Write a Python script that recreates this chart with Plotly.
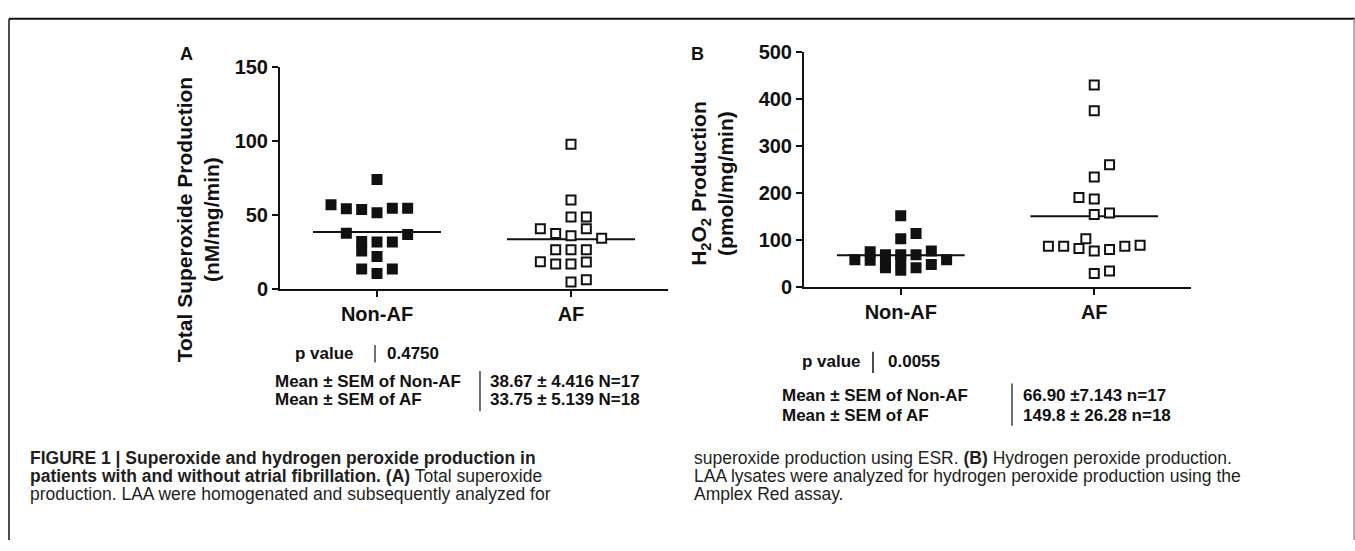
import plotly.graph_objects as go

W, H = 1355, 551

# ---------------- data ----------------
groups = ["Non-AF", "AF"]

# Panel A: total superoxide production (nM/mg/min)
a_nonaf_vals = [74, 57.1, 54.3, 53.9, 51.7, 54.7, 54.7, 37.9, 37.0, 32.3, 25.9, 31.9, 31.9, 22.2, 13.8, 10.8, 13.8]
a_nonaf_cols = [0, -3, -2, -1, 0, 1, 2, -2, 2, -1, -1, 0, 1, 0, -1, 0, 1]
a_af_vals = [97.8, 60.3, 48.7, 48.7, 40.9, 40.9, 37.7, 36.2, 34.5, 26.7, 26.7, 26.7, 18.7, 17.2, 17.2, 18.5, 5.0, 6.5]
a_af_cols = [0, 0, 0, 1, -2, 1, -1, 0, 2, -1, 0, 1, -2, -1, 0, 1, 0, 1]
a_means = [38.67, 33.75]

# Panel B: H2O2 production (pmol/mg/min)
b_nonaf_vals = [151, 113, 102, 57, 74, 56, 68, 40, 68, 55, 35, 68, 40, 76, 47, 57, 45]
b_nonaf_cols = [0, 1, 0, -3, -2, -2, -1, -1, 0, 0, 0, 1, 1, 2, 2, 3, -1]
b_af_vals = [430, 375, 260, 234, 190, 187, 154, 157, 86, 86, 81, 102, 76, 79, 86, 88, 28, 33]
b_af_cols = [0, 0, 1, 0, -1, 0, 0, 1, -3, -2, -1, -0.55, 0, 1, 2, 3, 0, 1]
b_means = [66.90, 149.8]

a_ticks = [0, 50, 100, 150]
b_ticks = [0, 100, 200, 300, 400, 500]

a_stats = ["p value", "0.4750", "Mean ± SEM of Non-AF", "Mean ± SEM of AF",
           "38.67 ± 4.416 N=17", "33.75 ± 5.139 N=18"]
b_stats = ["p value", "0.0055", "Mean ± SEM of Non-AF", "Mean ± SEM of AF",
           "66.90 ±7.143 n=17", "149.8 ± 26.28 n=18"]

STEP = 0.079
HALF = 0.33

def px(x):
    return x / W

def py(y):
    return 1 - y / H

fig = go.Figure()

def add_panel(xa, ya, nonaf_vals, nonaf_cols, af_vals, af_cols, means):
    for gi, m in enumerate(means):
        fig.add_trace(go.Scatter(x=[gi - HALF, gi + HALF], y=[m, m], mode="lines",
                                 line=dict(color="#111", width=2), xaxis=xa, yaxis=ya,
                                 showlegend=False, hoverinfo="skip"))
    fig.add_trace(go.Scatter(x=[0 + c * STEP for c in nonaf_cols], y=nonaf_vals, mode="markers",
                             marker=dict(symbol="square", size=11, color="#111", line=dict(width=0)),
                             xaxis=xa, yaxis=ya, showlegend=False))
    fig.add_trace(go.Scatter(x=[1 + c * STEP for c in af_cols], y=af_vals, mode="markers",
                             marker=dict(symbol="square", size=9, color="white",
                                         line=dict(width=2, color="#111")),
                             xaxis=xa, yaxis=ya, showlegend=False))

add_panel("x", "y", a_nonaf_vals, a_nonaf_cols, a_af_vals, a_af_cols, a_means)
add_panel("x2", "y2", b_nonaf_vals, b_nonaf_cols, b_af_vals, b_af_cols, b_means)

FONT = "Liberation Sans, Arial, sans-serif"
axis_common = dict(showline=True, linecolor="#111", linewidth=2, ticks="outside", ticklen=6,
                   tickwidth=2, tickcolor="#111", showgrid=False, zeroline=False,
                   tickfont=dict(family=FONT, size=20, color="#111", weight="bold"))

fig.update_layout(
    width=W, height=H, margin=dict(l=0, r=0, t=0, b=0),
    paper_bgcolor="white", plot_bgcolor="white",
    xaxis=dict(domain=[px(280), px(668)], range=[-0.5, 1.5], tickvals=[0, 1], ticktext=groups,
               anchor="y", **axis_common),
    yaxis=dict(domain=[py(290), py(58)], range=[0, 150], tickvals=a_ticks, anchor="x",
               **axis_common),
    xaxis2=dict(domain=[px(804), px(1191)], range=[-0.5, 1.5], tickvals=[0, 1], ticktext=groups,
                anchor="y2", **axis_common),
    yaxis2=dict(domain=[py(287), py(43)], range=[0, 500], tickvals=b_ticks, anchor="x2",
                **axis_common),
)

ann = []
def text(x, y, s, size=17, bold=True, xanchor="left", angle=0, color="#111", family=FONT):
    ann.append(dict(x=px(x), y=py(y), xref="paper", yref="paper", text=s, showarrow=False,
                    xanchor=xanchor, yanchor="middle", textangle=angle,
                    font=dict(family=family, size=size, color=color,
                              weight="bold" if bold else "normal")))

# panel letters
text(186, 45, "A", size=18, xanchor="center")
text(697, 45, "B", size=18, xanchor="center")

# y-axis titles
text(198, 218, "Total Superoxide Production<br>(nM/mg/min)", size=21, xanchor="center", angle=-90)
text(712, 180, "H<sub>2</sub>O<sub>2</sub> Production<br>(pmol/mg/min)", size=21,
     xanchor="center", angle=-90)

# stats panel A
text(293, 357, a_stats[0])
text(385, 357, a_stats[1])
text(273, 386, a_stats[2])
text(273, 405, a_stats[3])
text(488, 386, a_stats[4])
text(488, 405, a_stats[5])
# stats panel B
text(800, 365, b_stats[0])
text(886, 365, b_stats[1])
text(780, 401, b_stats[2])
text(780, 421, b_stats[3])
text(1021, 401, b_stats[4])
text(1021, 421, b_stats[5])

# caption
CAP = "Liberation Sans, Arial, sans-serif"
cap_col = "#231f20"
cap_left = [
    "<b>FIGURE 1 | Superoxide and hydrogen peroxide production in</b>",
    "<b>patients with and without atrial fibrillation. (A)</b> Total superoxide",
    "production. LAA were homogenated and subsequently analyzed for",
]
cap_right = [
    "superoxide production using ESR. <b>(B)</b> Hydrogen peroxide production.",
    "LAA lysates were analyzed for hydrogen peroxide production using the",
    "Amplex Red assay.",
]
for i, s in enumerate(cap_left):
    text(28, 466 + i * 18.5, s, size=17.5, bold=False, color=cap_col, family=CAP)
for i, s in enumerate(cap_right):
    text(692, 466 + i * 18.5, s, size=17.5, bold=False, color=cap_col, family=CAP)

fig.update_layout(annotations=ann)

shapes = []
def line(x0, y0, x1, y1, w=1.5, color="#111"):
    shapes.append(dict(type="line", xref="paper", yref="paper", x0=px(x0), y0=py(y0),
                       x1=px(x1), y1=py(y1), line=dict(color=color, width=w)))

# separators
line(375, 348, 375, 366, 1.2)
line(480, 375, 480, 417, 1.2)
line(873, 355, 873, 377, 1.5)
line(1012, 388, 1012, 432, 1.2)
# frame
line(9, 8, 1355, 8, 2)
line(9, 8, 9, 551, 1.5)
line(1354, 8, 1354, 551, 1.5, "#999")
fig.update_layout(shapes=shapes)

fig.write_html("out.html", config={"displayModeBar": False},
               post_script="document.body.style.margin='0';document.body.style.overflow='hidden';")
